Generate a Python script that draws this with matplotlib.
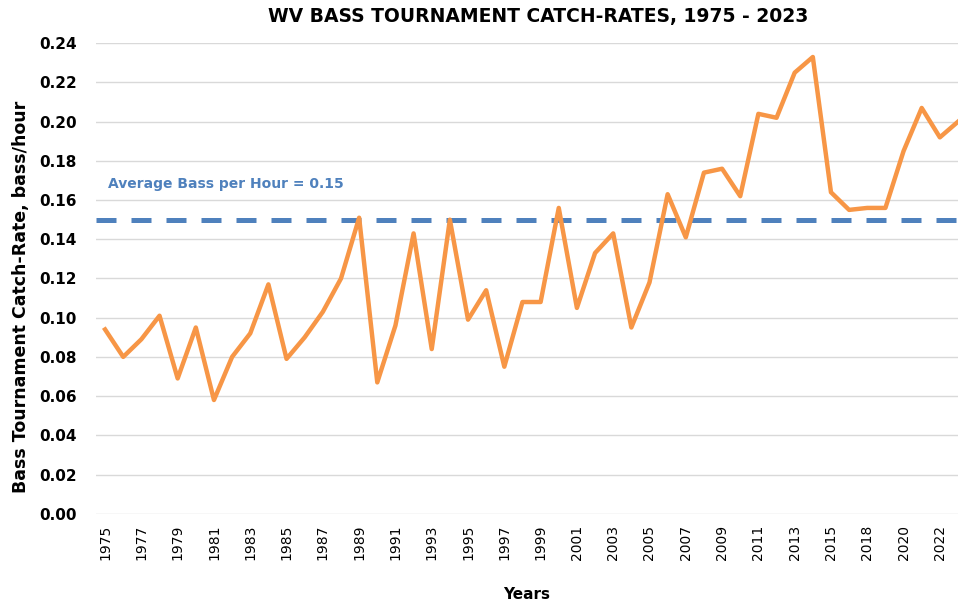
import matplotlib
matplotlib.use("Agg")
import matplotlib.pyplot as plt

# years on the category axis (one year between 2015 and 2018 only)
years = [str(y) for y in range(1975, 2017)] + [str(y) for y in range(2018, 2024)]

catch_rate = [
    0.094, 0.080, 0.089, 0.101, 0.069, 0.095, 0.058, 0.080, 0.092, 0.117,
    0.079, 0.090, 0.103, 0.120, 0.151, 0.067, 0.096, 0.143, 0.084, 0.150,
    0.099, 0.114, 0.075, 0.108, 0.108, 0.156, 0.105, 0.133, 0.143, 0.095,
    0.118, 0.163, 0.141, 0.174, 0.176, 0.162, 0.204, 0.202, 0.225, 0.233,
    0.164, 0.155, 0.156, 0.156, 0.185, 0.207, 0.192, 0.200,
]

average_rate = 0.15
y_ticks = [0.00, 0.02, 0.04, 0.06, 0.08, 0.10, 0.12, 0.14, 0.16, 0.18, 0.20, 0.22, 0.24]

fig = plt.figure(figsize=(9.58, 6.07), dpi=100)
ax = fig.add_axes([96 / 958, 0.1537, 1 - 96 / 958, 0.775])

x = list(range(len(years)))
ax.plot(x, catch_rate, color="#F79646", lw=3.2, solid_joinstyle="round", zorder=3)
ax.axhline(average_rate, color="#4F81BD", lw=3.6, dashes=(4, 3), zorder=2)

ax.text(0.15, 0.168, "Average Bass per Hour = 0.15", color="#4F81BD",
        fontsize=10, fontweight="bold", va="center", ha="left")

ax.set_xlim(-0.5, len(years) - 1)
ax.set_ylim(0, 0.24)
ax.set_yticks(y_ticks)
ax.set_yticklabels([f"{v:.2f}" for v in y_ticks], fontsize=11, fontweight="bold")
ax.set_xticks(x[::2])
ax.set_xticklabels(years[::2], rotation=90, fontsize=10)
ax.tick_params(length=0, pad=8)
ax.tick_params(axis="y", pad=14)

ax.grid(axis="y", color="#D9D9D9", lw=1)
ax.set_axisbelow(True)
for s in ax.spines.values():
    s.set_visible(False)

ax.set_xlabel("Years", fontsize=11, fontweight="bold", labelpad=19)
ax.set_ylabel("Bass Tournament Catch-Rate, bass/hour", fontsize=12.5, fontweight="bold")
ax.yaxis.set_label_coords(-0.077, 0.461)
fig.text(0.5615, 0.973, "WV BASS TOURNAMENT CATCH-RATES, 1975 - 2023",
         fontsize=13.5, fontweight="bold", ha="center", va="center")

fig.savefig("out.png", dpi=100)
